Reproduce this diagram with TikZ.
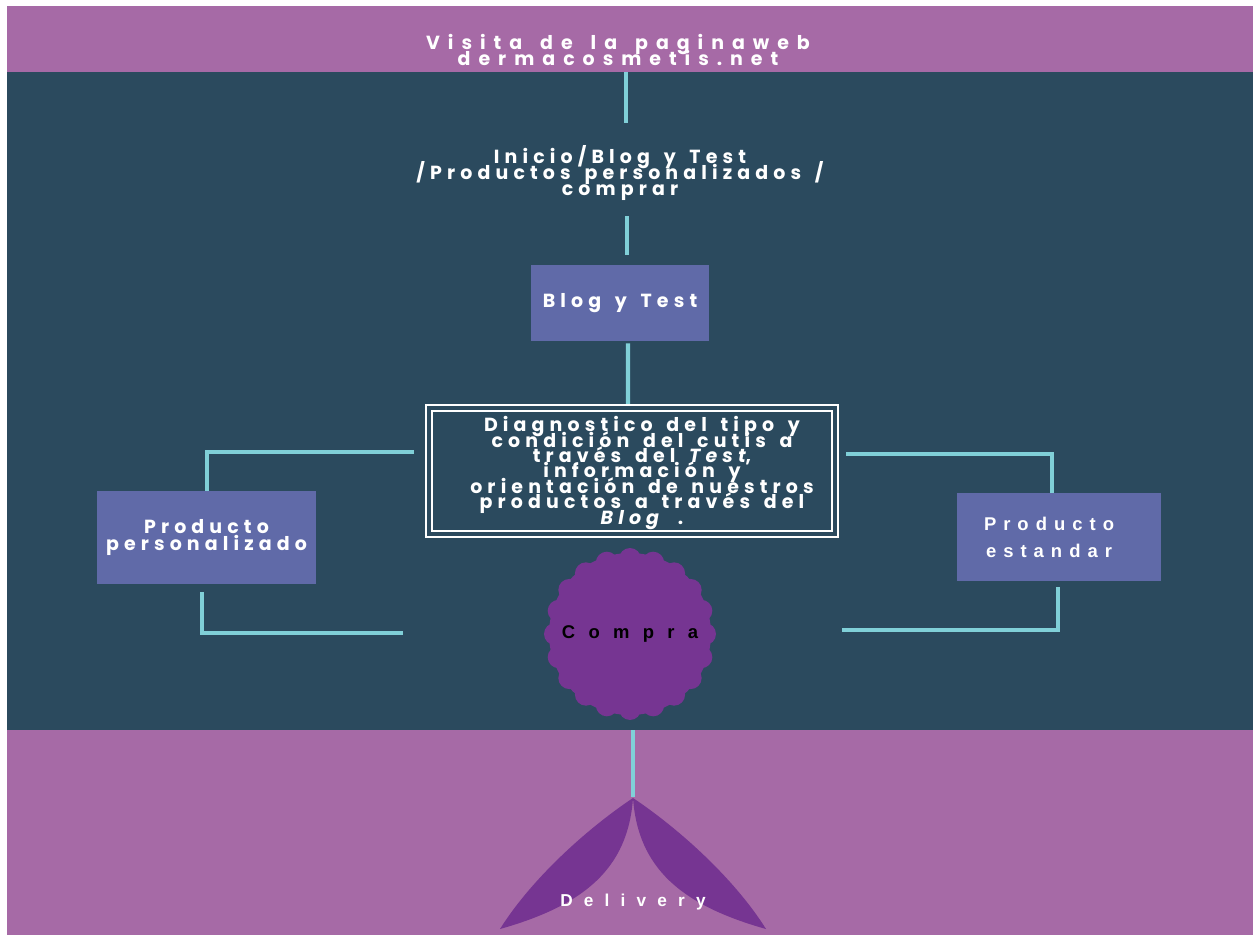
\documentclass[tikz,border=0pt]{standalone}
\usepackage{fontspec}
\setmainfont{Poppins}
\newfontfamily\popfont[LetterSpace=27,WordSpace=1.5]{Poppins}
\newfontfamily\arialfont[LetterSpace=60]{Liberation Sans}
\usepackage{tikz}
\usetikzlibrary{calc}
\definecolor{bandpurple}{RGB}{166,106,166}
\definecolor{darkslate}{RGB}{43,74,94}
\definecolor{boxblue}{RGB}{96,106,168}
\definecolor{linkcyan}{RGB}{128,208,216}
\definecolor{deeppurple}{RGB}{118,53,146}
\def\tightlines{\lineskiplimit-20pt\relax}
\def\drawlink{\draw[color=linkcyan, line width=2.3pt]}
\def\boxnode{\node[fill=boxblue,text=white,align=center,inner sep=0pt,font=\popfont\bfseries\fontsize{10.8}{9.6}\selectfont\tightlines]}
\def\textnode{\node[text=white,align=center,inner sep=0pt,font=\popfont\bfseries\fontsize{10.8}{9}\selectfont\tightlines]}

\begin{document}
\begin{tikzpicture}[x=0.02cm,y=-0.02cm]
\useasboundingbox (0,0) rectangle (1257,936);
\fill[white] (0,0) rectangle (1257,936);
\begin{scope}
\clip (7,6) rectangle (1253,935);
\fill[bandpurple] (7,6) rectangle (1253,935);
\fill[darkslate] (7,72) rectangle (1253,730);
% delivery shape
\fill[deeppurple] (633,798) .. controls (588,828) and (532,878) .. (500,929)
  .. controls (585,905) and (628,868) .. (633,798);
\fill[deeppurple] (633,798) .. controls (678,828) and (734,878) .. (766,929)
  .. controls (681,905) and (638,868) .. (633,798);
\end{scope}
\textnode[font=\popfont\bfseries\addfontfeatures{LetterSpace=42}\fontsize{10.8}{9}\selectfont\tightlines] (visita) at (618,50) {Visita de la paginaweb\\dermacosmetis.net};
\coordinate (v1) at (626,72);
\coordinate (v2) at (626,123);
\drawlink (v1) -- (v2);
\textnode (inicio) at (620,173) {Inicio/Blog y Test\\/Productos personalizados /\\comprar};
\coordinate (i1) at (627,216);
\coordinate (i2) at (627,255);
\drawlink (i1) -- (i2);
\boxnode[minimum width=3.56cm,minimum height=1.52cm] (blog) at (620,303) {Blog y Test};
\coordinate (d1) at (628,404);
\drawlink ([xshift=0.16cm,yshift=-0.04cm]blog.south) -- (d1);
\node[draw=white,double=darkslate,double distance=0.08cm,line width=0.04cm,minimum width=8.11cm,minimum height=2.53cm] (diag) at (632,471) {};
\textnode[font=\popfont\bfseries\fontsize{10.8}{8.8}\selectfont\tightlines] (diagtext) at (642,473) {Diagnostico del tipo y\\condición del cutis a\\través del \textit{Test},\\información y\\orientación de nuestros\\productos a través del\\\textit{Blog} .};
\boxnode[minimum width=4.38cm,minimum height=1.86cm] (perso) at (206.5,537.5) {Producto\\personalizado};
\boxnode[minimum width=4.08cm,minimum height=1.76cm,font=\arialfont\bfseries\addfontfeatures{LetterSpace=38}\fontsize{10.5}{15.3}\selectfont] (estandar) at (1059,537) {Producto\kern0.4cm\\estandar\kern0.4cm};
\coordinate (dl) at (414,452);
\coordinate (dr) at (846,454);
\drawlink (dl) -| ([xshift=0.01cm]perso.north);
\drawlink (dr) -| ([xshift=-0.14cm]estandar.north);
\coordinate (pl) at (403,633);
\coordinate (pr) at (842,630);
\drawlink ([xshift=-0.09cm,yshift=-0.16cm]perso.south) |- (pl);
\drawlink ([xshift=-0.02cm,yshift=-0.12cm]estandar.south) |- (pr);
% compra
\coordinate (cc) at (630,634);
\fill[deeppurple] (cc) circle (1.62cm);
\foreach \a in {0,18,...,342}
  \fill[deeppurple] (cc) ++(\a:1.5cm) circle (0.22cm);
\node[text=black,inner sep=0pt,font=\arialfont\bfseries\addfontfeatures{LetterSpace=72}\fontsize{10.5}{10}\selectfont] (compra) at (cc) {Compra};
\coordinate (c1) at (633,730);
\coordinate (dtop) at (633,797);
\drawlink (c1) -- (dtop);
\node[text=white,inner sep=0pt,font=\arialfont\bfseries\addfontfeatures{LetterSpace=65}\fontsize{9.8}{10}\selectfont] (delivery) at (633,902) {Delivery};
\end{tikzpicture}
\end{document}
